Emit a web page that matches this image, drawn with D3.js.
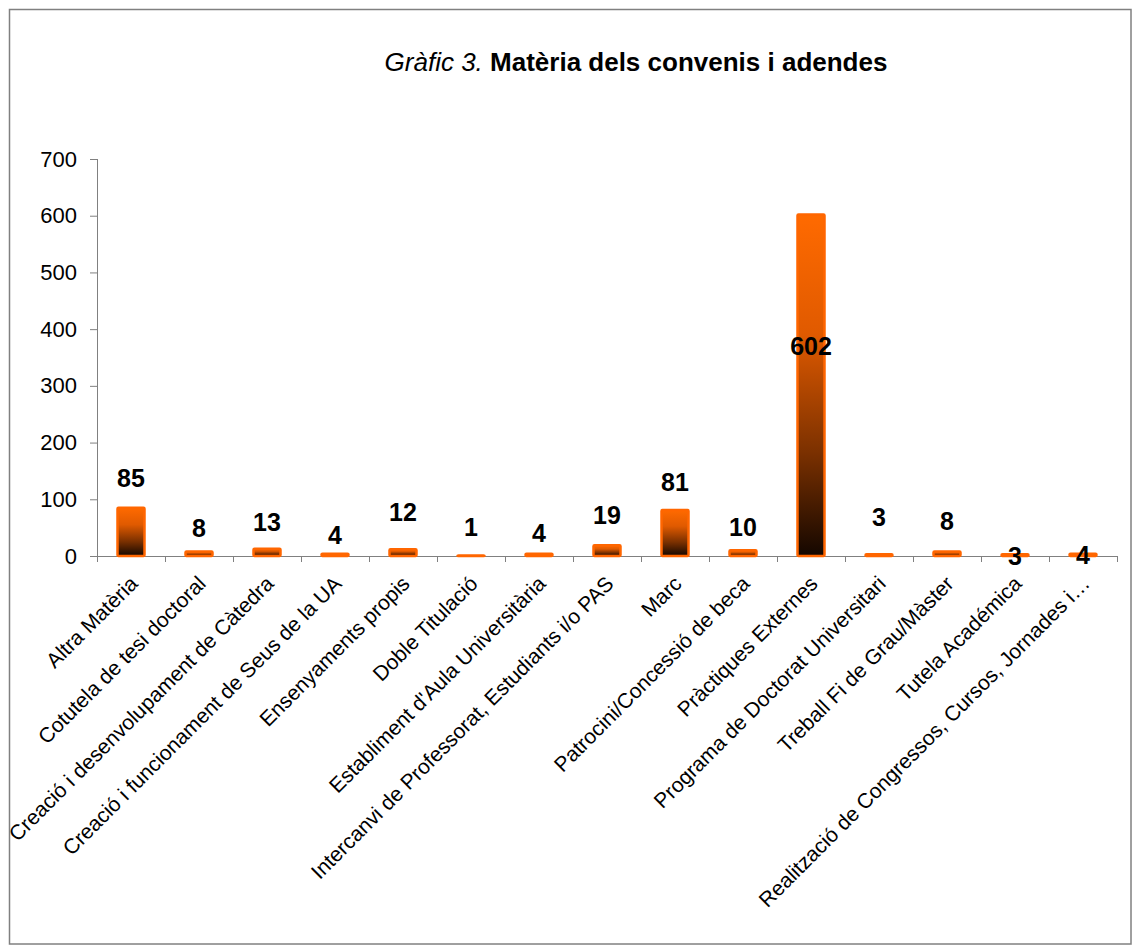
<!DOCTYPE html>
<html>
<head>
<meta charset="utf-8">
<script src="https://cdn.jsdelivr.net/npm/d3@7/dist/d3.min.js"></script>
<style>
  html, body { margin: 0; padding: 0; background: #fff; }
  svg { display: block; font-family: "Liberation Sans", Arial, sans-serif; }
</style>
</head>
<body>
<svg id="chart" width="1132" height="945"></svg>
<script>
const categories = [
  "Altra Matèria",
  "Cotutela de tesi doctoral",
  "Creació i desenvolupament de Càtedra",
  "Creació i funcionament de Seus de la UA",
  "Ensenyaments propis",
  "Doble Titulació",
  "Establiment d'Aula Universitària",
  "Intercanvi de Professorat, Estudiants i/o PAS",
  "Marc",
  "Patrocini/Concessió de beca",
  "Pràctiques Externes",
  "Programa de Doctorat Universitari",
  "Treball Fi de Grau/Màster",
  "Tutela Académica",
  "Realització de Congressos, Cursos, Jornades i…"
];
const values = [85, 8, 13, 4, 12, 1, 4, 19, 81, 10, 602, 3, 8, 3, 4];
// where each data label sits, in value units
const labelAt = [137, 49, 60, 37, 77, 51, 40, 72, 130, 52, 370, 69, 62, 0, 2];
const yTicks = [0, 100, 200, 300, 400, 500, 600, 700];

const svg = d3.select("#chart");

// frame
svg.append("rect")
  .attr("x", 9.5).attr("y", 9.5)
  .attr("width", 1121.5).attr("height", 934.5)
  .attr("fill", "none").attr("stroke", "#808080").attr("stroke-width", 1.5);

// title
const title = svg.append("text")
  .attr("x", 636).attr("y", 71)
  .attr("text-anchor", "middle")
  .attr("font-size", 26)
  .attr("fill", "#000");
title.append("tspan").attr("font-style", "italic").text("Gràfic 3. ");
title.append("tspan").attr("font-weight", "bold").text("Matèria dels convenis i adendes");

const x = d3.scaleBand().domain(categories).range([97, 1117]).paddingInner(0).paddingOuter(0);
const y = d3.scaleLinear().domain([0, 700]).range([556, 159]);

// gradient
const defs = svg.append("defs");
const grad = defs.append("linearGradient")
  .attr("id", "barGrad").attr("x1", 0).attr("y1", 0).attr("x2", 0).attr("y2", 1);
grad.append("stop").attr("offset", "0%").attr("stop-color", "#FF6A00");
grad.append("stop").attr("offset", "35%").attr("stop-color", "#E05A00");
grad.append("stop").attr("offset", "70%").attr("stop-color", "#7A3000");
grad.append("stop").attr("offset", "100%").attr("stop-color", "#140700");

// y axis
const yAxis = d3.axisLeft(y).tickValues(yTicks).tickSize(7).tickPadding(13);
const gy = svg.append("g").attr("transform", "translate(97,0)").call(yAxis);
gy.select(".domain").attr("stroke", "#808080").attr("d", "M0.5,159V562");
gy.selectAll(".tick line").attr("stroke", "#808080").attr("x1", 0.5).attr("x2", -7);
gy.selectAll(".tick text").attr("font-size", 22).attr("fill", "#000")
  .attr("font-family", "Liberation Sans, Arial, sans-serif");

// x axis
const gx = svg.append("g").attr("transform", "translate(0,556)");
gx.append("line").attr("x1", 90).attr("x2", 1117).attr("y1", 0.5).attr("y2", 0.5)
  .attr("stroke", "#808080");
const bounds = categories.map(c => x(c)).concat([x(categories[categories.length - 1]) + x.bandwidth()]);
gx.selectAll("line.tk").data(bounds.slice(1)).enter().append("line")
  .attr("class", "tk")
  .attr("x1", d => Math.round(d) + 0.5).attr("x2", d => Math.round(d) + 0.5)
  .attr("y1", 0).attr("y2", 6).attr("stroke", "#808080");

// bars
const bw = 27;
svg.append("g").selectAll("rect").data(values).enter().append("rect")
  .attr("x", (d, i) => x(categories[i]) + x.bandwidth() / 2 - bw / 2)
  .attr("y", d => y(d))
  .attr("width", bw)
  .attr("height", d => y(0) - y(d))
  .attr("rx", 1)
  .attr("fill", "url(#barGrad)")
  .attr("stroke", "#FF6600")
  .attr("stroke-width", 2.5);

// data labels
svg.append("g").selectAll("text").data(values).enter().append("text")
  .attr("x", (d, i) => x(categories[i]) + x.bandwidth() / 2)
  .attr("y", (d, i) => y(labelAt[i]))
  .attr("dy", "0.36em")
  .attr("text-anchor", "middle")
  .attr("font-size", 25)
  .attr("font-weight", "bold")
  .attr("fill", "#000")
  .text(d => d);

// category labels
svg.append("g").selectAll("text").data(categories).enter().append("text")
  .attr("transform", c => `translate(${x(c) + x.bandwidth() / 2 + 8},585) rotate(-45)`)
  .attr("text-anchor", "end")
  .attr("font-size", 21)
  .attr("fill", "#000")
  .text(c => c);
</script>
</body>
</html>
